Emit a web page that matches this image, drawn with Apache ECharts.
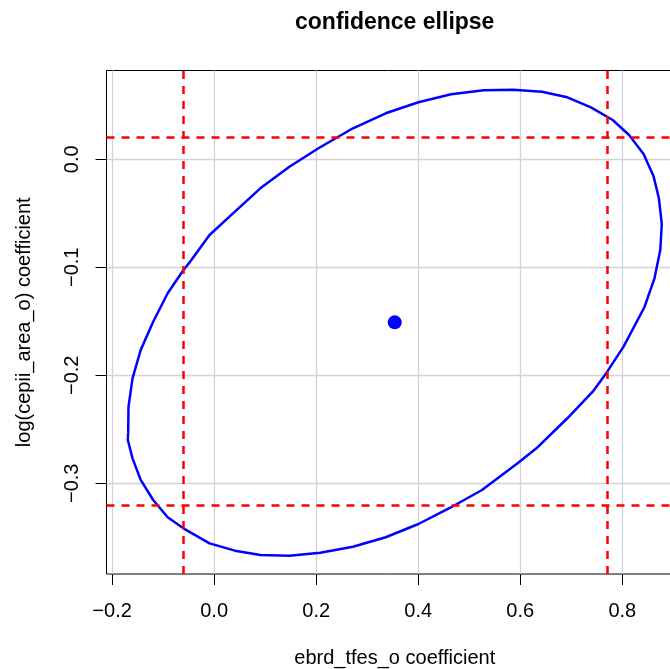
<!DOCTYPE html>
<html>
<head>
<meta charset="utf-8">
<title>confidence ellipse</title>
<script src="https://cdn.jsdelivr.net/npm/echarts@6/dist/echarts.min.js"></script>
<style>
    html, body {margin: 0; padding: 0; background: #fff;}
    #chart {width: 670px; height: 669px;}
</style>
</head>
<body>
<div id="chart"></div>
<script>
// ellipse outline (clockwise, closed)
var ellipseX = [-0.1685, -0.1679, -0.1600, -0.1440, -0.1195, -0.0911, -0.0625, -0.0447, -0.0090, 0.0407,
    0.0905, 0.1475, 0.2045, 0.2721, 0.3363, 0.4004, 0.4644, 0.5285, 0.5855, 0.6425,
    0.6923, 0.7385, 0.7812, 0.8133, 0.8417, 0.8611, 0.8717, 0.8774, 0.8745, 0.8631,
    0.8433, 0.8025, 0.7692, 0.7420, 0.6923, 0.6317, 0.5961, 0.5250, 0.4609, 0.4004,
    0.3363, 0.2721, 0.2080, 0.1475, 0.0907, 0.0407, -0.0090, -0.0603, -0.0911, -0.1195,
    -0.1440, -0.1600, -0.1692, -0.1685];
var ellipseY = [-0.2531, -0.2291, -0.2028, -0.1766, -0.1504, -0.1241, -0.1041, -0.0932, -0.0701, -0.0485,
    -0.0269, -0.0069, 0.0102, 0.0287, 0.0426, 0.0528, 0.0602, 0.0639, 0.0644, 0.0626,
    0.0574, 0.0481, 0.0364, 0.0225, 0.0049, -0.0154, -0.0361, -0.0599, -0.0840, -0.1102,
    -0.1370, -0.1735, -0.1976, -0.2152, -0.2398, -0.2676, -0.2809, -0.3062, -0.3231, -0.3377,
    -0.3500, -0.3587, -0.3643, -0.3670, -0.3664, -0.3624, -0.3556, -0.3417, -0.3315, -0.3155,
    -0.2969, -0.2769, -0.2599, -0.2531];

var center = [0.354, -0.151];
// confidence interval limits (dashed red)
var ciX = [-0.062, 0.769];
var ciY = [0.0206, -0.3226];

var xTicks = [-0.2, 0, 0.2, 0.4, 0.6, 0.8];
var yTicks = [-0.3, -0.2, -0.1, 0];

var fam = '"Liberation Sans", Arial, Helvetica, sans-serif';

function fmt(v) {
    return v.toFixed(1).replace('-', '\u2212');
}

var ellipse = [];
for (var i = 0; i < ellipseX.length; i++) {
    ellipse.push([ellipseX[i], ellipseY[i]]);
}

var ciLines = [];
ciX.forEach(function (v) { ciLines.push({xAxis: v}); });
ciY.forEach(function (v) { ciLines.push({yAxis: v}); });

var chart = echarts.init(document.getElementById('chart'));
chart.setOption({
    animation: false,
    backgroundColor: '#fff',
    title: {
        text: 'confidence ellipse',
        left: 394.7,
        top: 11,
        padding: 0,
        textAlign: 'center',
        textStyle: {fontFamily: fam, fontSize: 23, fontWeight: 'bold', color: '#000'}
    },
    grid: {
        left: 106.5,
        top: 70.5,
        width: 576.5,
        height: 503.5,
        show: true,
        borderColor: '#000',
        borderWidth: 1,
        backgroundColor: 'transparent',
        containLabel: false,
        outerBoundsMode: 'none'
    },
    xAxis: {
        type: 'value',
        min: -0.211,
        max: 0.919,
        name: 'ebrd_tfes_o coefficient',
        nameLocation: 'middle',
        nameGap: 74,
        nameTextStyle: {fontFamily: fam, fontSize: 20, color: '#000'},
        axisLine: {show: false, onZero: false},
        axisTick: {show: true, length: 11, customValues: xTicks, lineStyle: {color: '#000', width: 1}},
        axisLabel: {customValues: xTicks, margin: 27, fontFamily: fam, fontSize: 20, color: '#000', formatter: fmt},
        splitLine: {show: true, lineStyle: {color: '#d3d3d3', width: 1.3}}
    },
    yAxis: {
        type: 'value',
        min: -0.384,
        max: 0.0822,
        name: 'log(cepii_area_o) coefficient',
        nameLocation: 'middle',
        nameGap: 72,
        nameRotate: 90,
        nameTextStyle: {fontFamily: fam, fontSize: 20, color: '#000'},
        axisLine: {show: false, onZero: false},
        axisTick: {show: true, length: 11, customValues: yTicks, lineStyle: {color: '#000', width: 1}},
        axisLabel: {customValues: yTicks, margin: 24, rotate: 90, fontFamily: fam, fontSize: 20, color: '#000', formatter: fmt},
        splitLine: {show: true, lineStyle: {color: '#d3d3d3', width: 1.3}}
    },
    series: [
        {
            type: 'line',
            data: ellipse,
            showSymbol: false,
            symbol: 'none',
            lineStyle: {color: '#0000ff', width: 2.5},
            z: 3,
            markLine: {
                silent: true,
                symbol: 'none',
                label: {show: false},
                lineStyle: {color: '#ff0000', width: 2.5, type: [8, 7]},
                data: ciLines
            }
        },
        {
            type: 'scatter',
            data: [center],
            symbol: 'circle',
            symbolSize: 14,
            itemStyle: {color: '#0000ff', opacity: 1},
            z: 4
        }
    ]
});
</script>
</body>
</html>
